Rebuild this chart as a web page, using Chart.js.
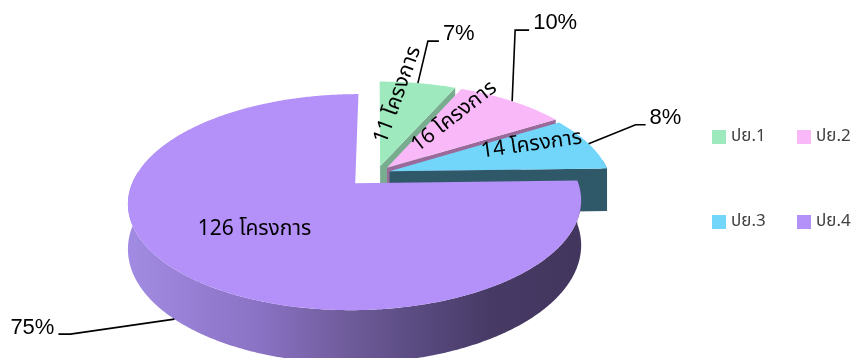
<!DOCTYPE html>
<html><head><meta charset="utf-8">
<script src="https://cdn.jsdelivr.net/npm/chart.js@4.4.1/dist/chart.umd.min.js"></script>
<style>html,body{margin:0;padding:0;background:#fff;overflow:hidden}#wrap{width:853px;height:358px;position:relative}</style>
</head><body><div id="wrap"><canvas id="c" width="853" height="358"></canvas></div>
<script>
// ---- data ----
const categories = ['ปย.1', 'ปย.2', 'ปย.3', 'ปย.4'];
const projectCounts = [11, 16, 14, 126];
const unitLabel = 'โครงการ';

// ---- styles ----
const topColors = ['#9ee9be', '#f9b9f9', '#72d6fb', '#b490f9'];
const sideColors = ['#78ad8f', '#9a6b9a', '#2f5868', '#6f5a9a'];
const explode = [0.07, 0.07, 0.06, 0.14];
const sliceLabelPlace = [{f:0.3,r:0.82,rot:-70},{f:0.25,r:0.65,rot:-38},{f:0.36,r:0.73,rot:-8},{f:0.5,r:0.59,rot:0}];
const leaderElbow = [[10,-42],[3,-71],[47,-19],[-104,15]];
const leaderTail = [11,14,10,-12];
const leaderFromBase = [false,false,false,true];
const THAI = "'Noto Sans Thai','Leelawadee UI',Tahoma,'Noto Sans','DejaVu Sans',sans-serif";

// perspective view
const SX=377, SY=173, AX=219.3, BY=101.2, PB=0.171, DEPTH=43;
function proj(u,v,down){const w=1-PB*v;return [SX+AX*u/w, SY+(BY*v+(down?DEPTH:0))/w];}

function makeProxy(ctx, bx, by, P){
  let off=[bx,by]; const stack=[];
  const api={
    save(){stack.push(off.slice());ctx.save();},
    restore(){off=stack.pop()||[bx,by];ctx.restore();},
    translate(x,y){off=[off[0]+x,off[1]+y];},
    beginPath(){ctx.beginPath();},
    moveTo(x,y){const p=P(x+off[0],y+off[1]);ctx.moveTo(p[0],p[1]);},
    lineTo(x,y){const p=P(x+off[0],y+off[1]);ctx.lineTo(p[0],p[1]);},
    arc(x,y,r,a0,a1,ccw){
      if(![x,y,r,a0,a1].every(Number.isFinite))return;
      const T=Math.PI*2; let s=a1-a0;
      if(!ccw){ if(s>=T)s=T; else {s=s%T; if(s<0)s+=T;} }
      else { if(s<=-T)s=-T; else {s=s%T; if(s>0)s-=T;} }
      const n=Math.max(1,Math.ceil(Math.abs(s)/0.01));
      for(let k=0;k<=n;k++){const a=a0+s*k/n;const p=P(x+r*Math.cos(a)+off[0],y+r*Math.sin(a)+off[1]);ctx.lineTo(p[0],p[1]);}
    },
    closePath(){ctx.closePath();},
    fill(){ctx.fill();},
    stroke(){ctx.stroke();}
  };
  return new Proxy(api,{
    get(t,k){ if(k in t) return t[k]; const v=ctx[k]; return typeof v==='function'?v.bind(ctx):v; },
    set(t,k,v){ ctx[k]=v; return true; }
  });
}

function sliceGeo(chart){
  const arcs=chart.getDatasetMeta(0).data;
  return arcs.map((el,i)=>{const a0=el.startAngle,a1=el.endAngle,m=(a0+a1)/2;
    return {el,i,a0,a1,m,ou:explode[i]*Math.cos(m),ov:explode[i]*Math.sin(m)};});
}

const pie3d={
  id:'pie3d',
  beforeDatasetsDraw(chart){
    const ctx=chart.ctx; const geo=sliceGeo(chart);
    const x0=geo[0].el.x, y0=geo[0].el.y, R=geo[0].el.outerRadius;
    const order=geo.slice().sort((p,q)=>(p.ov+0.5*Math.sin(p.m))-(q.ov+0.5*Math.sin(q.m)));
    for(const g of order){
      ctx.save();
      let fill=sideColors[g.i];
      if(g.i===3){
        const gr=ctx.createLinearGradient(126,0,600,0);
        gr.addColorStop(0,'#a28ce3');gr.addColorStop(0.28,'#8a72c4');gr.addColorStop(0.48,'#6d5a98');
        gr.addColorStop(0.62,'#594a80');gr.addColorStop(0.77,'#473a65');gr.addColorStop(1,'#41355c');
        fill=gr;
      }
      ctx.fillStyle=fill;
      // outer wall, only its front-facing runs
      const n=Math.max(2,Math.ceil((g.a1-g.a0)/0.01));
      let runs=[],cur=null;
      for(let k=0;k<=n;k++){
        const a=g.a0+(g.a1-g.a0)*k/n;
        if(Math.sin(a)>-0.12){ if(!cur){cur=[];runs.push(cur);} cur.push(a); } else cur=null;
      }
      for(const run of runs){
        if(run.length<2)continue;
        const top=run.map(a=>proj(g.ou+Math.cos(a),g.ov+Math.sin(a),false));
        const bot=run.map(a=>proj(g.ou+Math.cos(a),g.ov+Math.sin(a),true));
        ctx.beginPath();
        top.forEach((p,k)=>k?ctx.lineTo(p[0],p[1]):ctx.moveTo(p[0],p[1]));
        for(let k=bot.length-1;k>=0;k--)ctx.lineTo(bot[k][0],bot[k][1]);
        ctx.closePath();ctx.fill();
      }
      // radial faces
      const faces=[[g.a0,-Math.cos(g.a0)],[g.a1,Math.cos(g.a1)]];
      for(const [a,ny] of faces){
        if(ny<=0.01)continue;
        const c1=proj(g.ou,g.ov,false),c2=proj(g.ou+Math.cos(a),g.ov+Math.sin(a),false);
        const c3=proj(g.ou+Math.cos(a),g.ov+Math.sin(a),true),c4=proj(g.ou,g.ov,true);
        ctx.fillStyle=sideColors[g.i];
        ctx.beginPath();ctx.moveTo(c1[0],c1[1]);ctx.lineTo(c2[0],c2[1]);ctx.lineTo(c3[0],c3[1]);ctx.lineTo(c4[0],c4[1]);ctx.closePath();ctx.fill();
      }
      ctx.restore();
    }
    // top faces drawn by Chart.js arc elements through a perspective view
    const P=(x,y)=>proj((x-x0)/R,(y-y0)/R,false);
    for(const g of order){ g.el.draw(makeProxy(ctx,g.ou*R,g.ov*R,P)); }
    return false;
  },
  afterDraw(chart){
    const ctx=chart.ctx; const geo=sliceGeo(chart);
    const data=chart.data.datasets[0].data; const total=data.reduce((s,v)=>s+v,0);
    ctx.save();
    ctx.fillStyle='#000';ctx.textAlign='center';ctx.textBaseline='middle';
    ctx.font='21px '+THAI;
    geo.forEach(g=>{
      const pl=sliceLabelPlace[g.i];const a=g.a0+pl.f*(g.a1-g.a0);
      const p=proj(g.ou+pl.r*Math.cos(a),g.ov+pl.r*Math.sin(a),false);
      ctx.save();ctx.translate(p[0],p[1]);ctx.rotate(pl.rot*Math.PI/180);
      ctx.fillText(data[g.i]+' '+unitLabel,0,0);ctx.restore();
    });
    ctx.font="22px 'Liberation Sans',Arial,sans-serif";
    geo.forEach(g=>{
      const s=proj(g.ou+Math.cos(g.m),g.ov+Math.sin(g.m),leaderFromBase[g.i]);
      const e=[s[0]+leaderElbow[g.i][0],s[1]+leaderElbow[g.i][1]];
      const t=[e[0]+leaderTail[g.i],e[1]];
      ctx.strokeStyle='#000';ctx.lineWidth=1.6;
      ctx.beginPath();ctx.moveTo(s[0],s[1]);ctx.lineTo(e[0],e[1]);ctx.lineTo(t[0],t[1]);ctx.stroke();
      const pct=Math.round(data[g.i]/total*100)+'%';
      ctx.fillStyle='#000';
      if(leaderTail[g.i]>0){ctx.textAlign='left';ctx.fillText(pct,t[0]+4,t[1]-7);}
      else {ctx.textAlign='right';ctx.fillText(pct,t[0]-4,t[1]-6);}
    });
    const colX=[712,797],rowY=[130,215];
    ctx.font='17px '+THAI;ctx.textAlign='left';ctx.textBaseline='middle';
    chart.data.labels.forEach((lab,i)=>{
      const x=colX[i%2],y=rowY[Math.floor(i/2)];
      ctx.fillStyle=chart.data.datasets[0].backgroundColor[i];ctx.fillRect(x,y,14,14);
      ctx.fillStyle='#404040';ctx.fillText(lab,x+19,y+8);
    });
    ctx.restore();
  }
};

new Chart(document.getElementById('c'),{
  type:'pie',
  data:{labels:categories,datasets:[{data:projectCounts,backgroundColor:topColors,borderWidth:0}]},
  options:{responsive:false,animation:false,devicePixelRatio:1,
    plugins:{legend:{display:false},tooltip:{enabled:false}},events:[]},
  plugins:[pie3d]
});
</script></body></html>
